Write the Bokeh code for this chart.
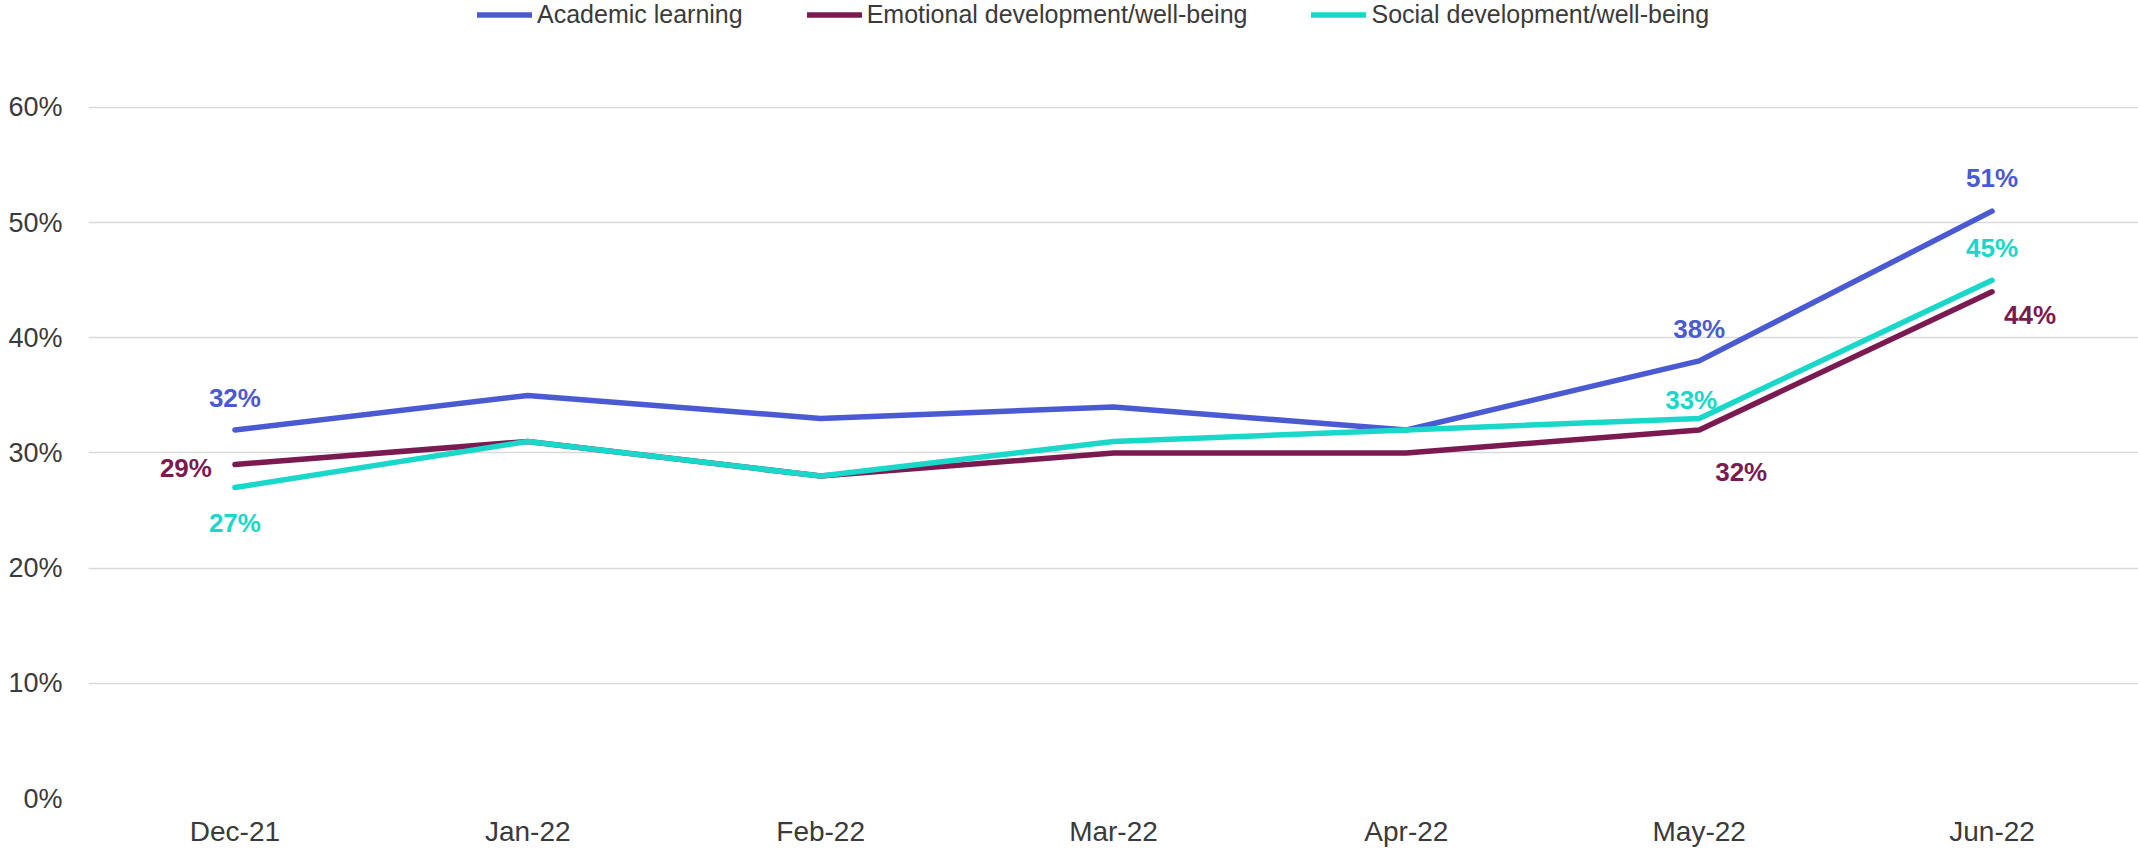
from bokeh.plotting import figure
from bokeh.models import (ColumnDataSource, FactorRange, Range1d, FixedTicker,
                          PrintfTickFormatter, Legend, LegendItem)
from bokeh.core.properties import value
from bokeh.embed import file_html
from bokeh.resources import INLINE

# ---------------- data ----------------
months = ["Dec-21", "Jan-22", "Feb-22", "Mar-22", "Apr-22", "May-22", "Jun-22"]
academic = [32, 35, 33, 34, 32, 38, 51]
emotional = [29, 31, 28, 30, 30, 32, 44]
social = [27, 31, 28, 31, 32, 33, 45]
series_names = ["Academic learning", "Emotional development/well-being",
                "Social development/well-being"]
y_ticks = [0, 10, 20, 30, 40, 50, 60]

# ---------------- style ----------------
colors = ["#4A5AD2", "#7B1A50", "#19D8C9"]
FONT = "Liberation Sans"
TXT = "#3A3A3A"

p = figure(x_range=FactorRange(factors=months, range_padding=0),
           y_range=Range1d(0, 69.29),
           width=2138, height=850, output_backend="svg", toolbar_location=None,
           min_border_left=88, min_border_right=0, min_border_top=0,
           min_border_bottom=52)
p.outline_line_color = None
p.background_fill_color = "white"
p.border_fill_color = "white"

p.xgrid.grid_line_color = None
p.ygrid.grid_line_color = "#D9D9D9"
p.ygrid.grid_line_width = 1.5

p.yaxis.ticker = FixedTicker(ticks=y_ticks)
p.yaxis.formatter = PrintfTickFormatter(format="%d%%")
for ax in (p.xaxis[0], p.yaxis[0]):
    ax.axis_line_color = None
    ax.major_tick_line_color = None
    ax.minor_tick_line_color = None
    ax.major_tick_out = 0
    ax.major_tick_in = 0
    ax.minor_tick_out = 0
    ax.major_label_text_font = FONT
    ax.major_label_text_color = TXT
p.xaxis.major_label_text_font_size = "28px"
p.yaxis.major_label_text_font_size = "27px"
p.yaxis.major_label_standoff = 26
p.xaxis.major_label_standoff = 17

all_series = [academic, emotional, social]
renderers = []
for name, vals, col in zip(series_names, all_series, colors):
    src = ColumnDataSource(dict(x=months, y=vals))
    r = p.line("x", "y", source=src, line_color=col, line_width=5.5,
               line_cap="round", line_join="round")
    renderers.append(r)

# data labels: (series index, month index, x offset px, y offset px)
label_spots = [
    (0, 0, 0, -32), (1, 0, -49, 3), (2, 0, 0, 35),
    (0, 5, 0, -32), (2, 5, -8, -18), (1, 5, 42, 42),
    (0, 6, 0, -33), (2, 6, 0, -32), (1, 6, 38, 23),
]
for si, mi, dx, dy in label_spots:
    v = all_series[si][mi]
    src = ColumnDataSource(dict(x=[months[mi]], y=[v], t=[f"{v}%"]))
    p.text("x", "y", text="t", source=src, x_offset=dx, y_offset=dy,
           text_align="center", text_baseline="middle",
           text_font=value(FONT), text_font_style="bold",
           text_font_size="26px", text_color=colors[si])

legend = Legend(
    items=[LegendItem(label=n, renderers=[r]) for n, r in zip(series_names, renderers)],
    orientation="horizontal", location=(389, 769),
    glyph_width=55, glyph_height=29, label_height=29, label_standoff=5,
    spacing=64, padding=0, margin=0,
    label_text_font=FONT, label_text_font_size="25px", label_text_color=TXT,
    border_line_color=None, background_fill_alpha=0,
)
p.add_layout(legend, "center")

open("out.html", "w").write(file_html(p, INLINE))
